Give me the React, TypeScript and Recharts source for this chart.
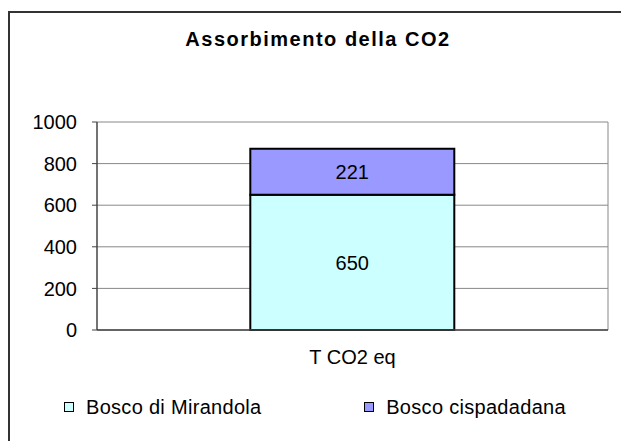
import React from 'react';
import { BarChart, Bar, XAxis, YAxis, CartesianGrid, Legend, LabelList } from 'recharts';

const categories = ['T CO2 eq'];
const mirandola = [650];
const cispadadana = [221];
const yTicks = [0, 200, 400, 600, 800, 1000];
const seriesNames = ['Bosco di Mirandola', 'Bosco cispadadana'];
const title = 'Assorbimento della CO2';

const data = categories.map((c, i) => ({ name: c, mirandola: mirandola[i], cispadadana: cispadadana[i] }));

const FONT = '"Liberation Sans", Arial, sans-serif';

const LegendContent = (props: any) => {
  const payload = (props.payload || []) as any[];
  const order = ['mirandola', 'cispadadana'];
  const items = order.map((k) => payload.find((p) => p.dataKey === k)).filter(Boolean);
  return (
    <div style={{ display: 'flex', paddingLeft: 64, fontFamily: FONT, fontSize: 20, lineHeight: '22px', color: '#000' }}>
      {items.map((p: any, i: number) => (
        <div key={i} style={{ display: 'flex', alignItems: 'center', width: i === 0 ? 304 : 260 }}>
          <span style={{ display: 'inline-block', width: 8, height: 8, border: '1.5px solid #000', background: p.color, marginRight: 12 }} />
          <span style={{ letterSpacing: 0.3 }}>{p.value}</span>
        </div>
      ))}
    </div>
  );
};

export default function App() {
  return (
    <div style={{ position: 'fixed', left: 0, top: 0, width: 621, height: 441, overflow: 'hidden', background: '#fff' }}>
      <div style={{ position: 'absolute', left: 8, top: 11, width: 700, height: 500, border: '2px solid #333', boxSizing: 'border-box' }} />
      <div style={{ position: 'absolute', left: 118, top: 28, width: 400, textAlign: 'center', fontFamily: FONT, fontWeight: 'bold', fontSize: 20, lineHeight: '23px', letterSpacing: 1.5, color: '#000' }}>
        {title}
      </div>
      <div style={{ position: 'absolute', left: 0, top: 0 }}>
        <BarChart width={621} height={441} data={data} margin={{ top: 122, right: 13, left: 37, bottom: 59 }} barCategoryGap="30%">
          <CartesianGrid
            stroke="#888"
            horizontal={true}
            vertical={true}
            verticalCoordinatesGenerator={(p: any) => [p.offset.left + p.offset.width]}
          />
          <XAxis dataKey="name" tickLine={false} axisLine={{ stroke: '#444', strokeWidth: 1.5 }} tickSize={6} tickMargin={14} tick={{ fill: '#000', fontSize: 20, fontFamily: FONT }} height={30} />
          <YAxis domain={[0, 1000]} ticks={yTicks} width={60} tickSize={5} tickMargin={15} axisLine={{ stroke: '#444', strokeWidth: 1.5 }} tickLine={{ stroke: '#444' }} tick={{ fill: '#000', fontSize: 20, fontFamily: FONT }} interval={0} />
          <Legend verticalAlign="bottom" wrapperStyle={{ position: 'absolute', top: 396, left: 0, width: 621 }} content={<LegendContent />} />
          <Bar dataKey="mirandola" name={seriesNames[0]} stackId="a" fill="#CCFFFF" stroke="#000" strokeWidth={2} isAnimationActive={false}>
            <LabelList dataKey="mirandola" position="center" fill="#000" fontSize={20} fontFamily={FONT} />
          </Bar>
          <Bar dataKey="cispadadana" name={seriesNames[1]} stackId="a" fill="#9999FF" stroke="#000" strokeWidth={2} isAnimationActive={false}>
            <LabelList dataKey="cispadadana" position="center" fill="#000" fontSize={20} fontFamily={FONT} />
          </Bar>
        </BarChart>
      </div>
    </div>
  );
}
